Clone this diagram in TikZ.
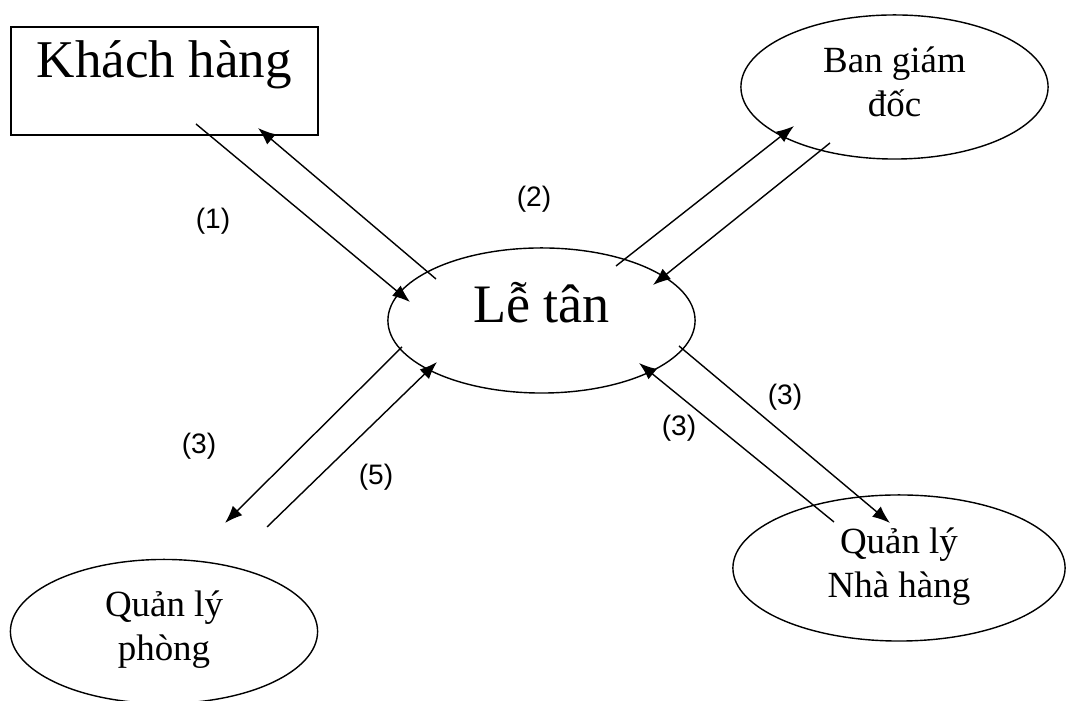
\documentclass[tikz,border=0pt]{standalone}
\usepackage{fontspec}
\setmainfont{Liberation Serif}
\setsansfont{Liberation Sans}
\usetikzlibrary{arrows.meta,shapes.geometric}

\tikzset{
    unit/.style={draw, ellipse, inner sep=0pt, minimum width=3.07cm, minimum height=1.44cm,
        align=center, font=\fontsize{10.5}{12.5}\selectfont, text height=0.68cm, text depth=0.1cm},
    flow/.style={-{Latex[length=5pt,width=3.8pt]}},
    tag/.style={font=\fontsize{8}{9.6}\sffamily, inner sep=0pt}
}

\begin{document}
\begin{tikzpicture}[x=0.01cm, y=-0.01cm, line width=0.4pt]
    \useasboundingbox (0,0) rectangle (1066,701);

    % the box and the ellipses
    \node[draw, rectangle, inner sep=0pt, minimum width=3.07cm, text height=0.51cm, text depth=0.57cm,
        font=\fontsize{15.1}{18}\selectfont] (kh) at (164.5,81) {Khách hàng};
    \node[draw, ellipse, inner sep=0pt, minimum width=3.07cm, minimum height=1.45cm, text height=0.4cm,
        text depth=0.35cm, font=\fontsize{15.4}{18}\selectfont] (lt) at (541.5,320.5) {Lễ tân};
    \node[unit] (bgd) at (894.5,87) {Ban giám\\đốc};
    \node[unit] (qlp) at (164,631.5) {Quản lý\\phòng};
    \node[unit, minimum width=3.32cm, minimum height=1.46cm] (qlnh) at (899,568) {Quản lý\\Nhà hàng};

    % ends of the arrows
    \coordinate (kh-a) at (196,124);  \coordinate (lt-a) at (410,302);
    \coordinate (lt-b) at (436,279);  \coordinate (kh-b) at (258,128);
    \coordinate (lt-c) at (616,266);  \coordinate (bgd-c) at (794,126);
    \coordinate (bgd-d) at (830,143); \coordinate (lt-d) at (653,285);
    \coordinate (lt-e) at (402,347);  \coordinate (qlp-e) at (225,523);
    \coordinate (qlp-f) at (267,527); \coordinate (lt-f) at (437,362);
    \coordinate (lt-g) at (679,346);  \coordinate (qlnh-g) at (890,523);
    \coordinate (qlnh-h) at (834,522); \coordinate (lt-h) at (639,363);

    \draw[flow] (kh-a) -- (lt-a);
    \draw[flow] (lt-b) -- (kh-b);
    \draw[flow] (lt-c) -- (bgd-c);
    \draw[flow] (bgd-d) -- (lt-d);
    \draw[flow] (lt-e) -- (qlp-e);
    \draw[flow] (qlp-f) -- (lt-f);
    \draw[flow] (lt-g) -- (qlnh-g);
    \draw[flow] (qlnh-h) -- (lt-h);

    % numbers
    \node[tag] (t1) at (213,221) {(1)};
    \node[tag] (t2) at (534,199) {(2)};
    \node[tag] (t3) at (199,446) {(3)};
    \node[tag] (t5) at (376,477) {(5)};
    \node[tag] (t3b) at (785,397) {(3)};
    \node[tag] (t3c) at (679,428) {(3)};

\end{tikzpicture}
\end{document}
